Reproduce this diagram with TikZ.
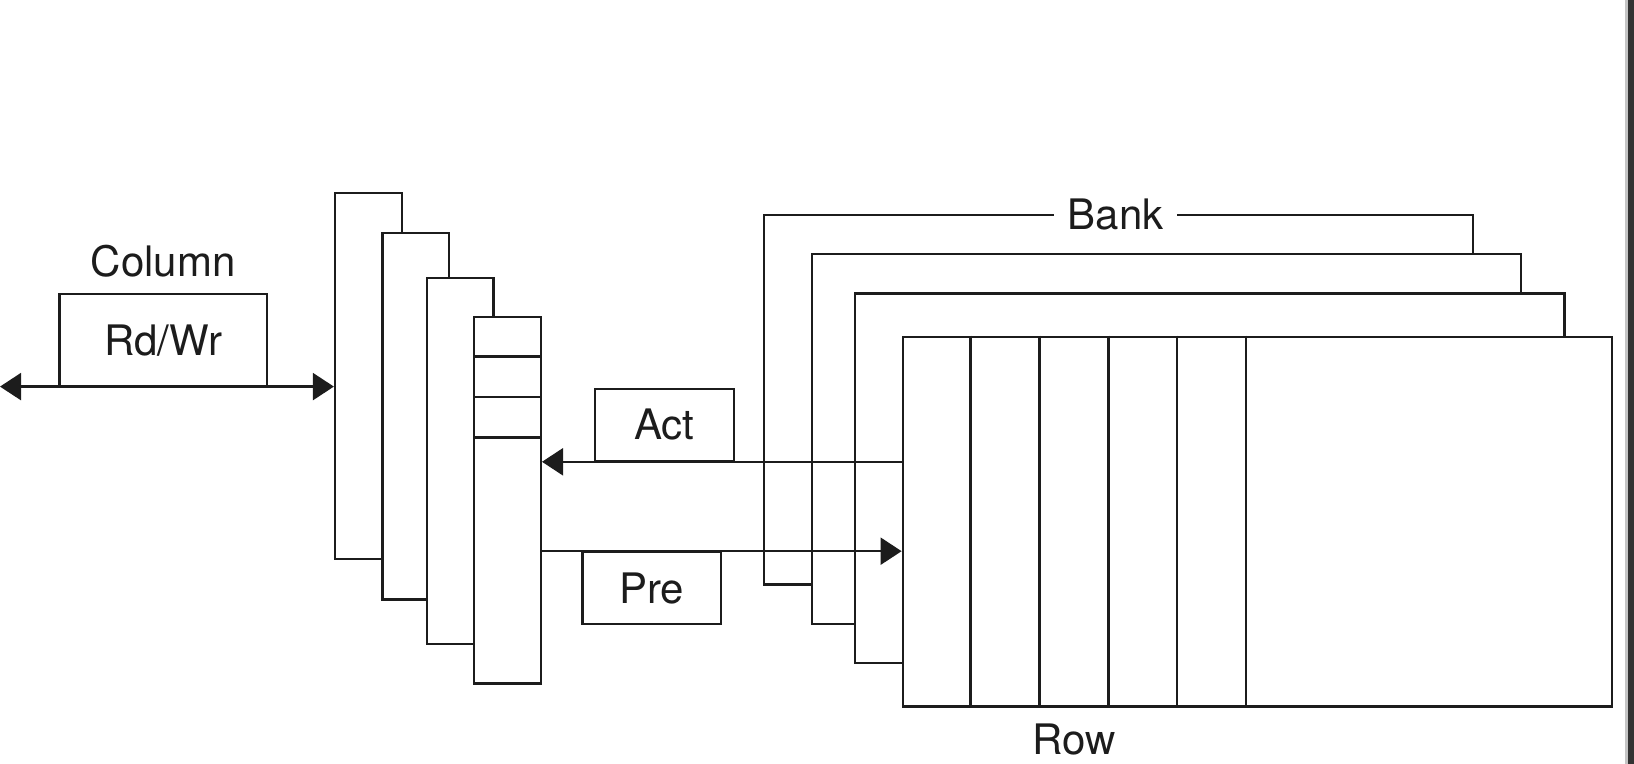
\documentclass[tikz,border=0pt]{standalone}
\usepackage{fontspec}
\setmainfont{TeX Gyre Heros}
\usepackage{tikz}
\usetikzlibrary{positioning, arrows.meta, calc}
\definecolor{dmink}{HTML}{1C1C1C}
\definecolor{dmstrip}{HTML}{333333}
\definecolor{dmedge}{HTML}{C4C4C4}
\newcommand{\dmfont}{\fontsize{21}{25}\selectfont}

\begin{document}
\begin{tikzpicture}[
  x=0.5pt, y=-0.5pt,
  line width=1.1pt, color=dmink,
  cell/.style={
    rectangle, draw, fill=white, inner sep=0pt,
    minimum width=33.4pt, minimum height=183.2pt
  },
  bank/.style={
    rectangle, draw, fill=white, inner sep=0pt,
    minimum width=354.6pt, minimum height=184.9pt
  },
  cmd/.style={
    rectangle, draw, fill=white, font=\dmfont,
    minimum width=69.3pt, minimum height=36pt
  },
  lbl/.style={inner sep=0pt, font=\dmfont},
  arr/.style={-{Triangle[length=10.5pt, width=13.5pt]}},
]
\useasboundingbox (0,0) rectangle (1634,764);

% Column side
\node[cmd, minimum width=103.7pt, minimum height=46.4pt] (rdwr) at (163.1,340.2) {Rd/Wr};
\node[lbl, above=7pt of rdwr] (column) {Column};
\coordinate (bus) at (0,386.6);

% Row buffers
\node[cell] (r1) at (368.4,376.2) {};
\node[cell] (r2) at (415.8,416.3) {};
\node[cell] (r3) at (460.1,461.1) {};
\node[cell] (r4) at (507.5,500.2) {};
\foreach \f in {0.11,0.22,0.33}
  \draw ($(r4.north west)!\f!(r4.south west)$) -- ($(r4.north east)!\f!(r4.south east)$);

% Banks
\node[bank] (b1) at (1118.7,399.7) {};
\node[bank] (b2) at (1166.2,438.7) {};
\node[bank] (b3) at (1209.9,478.4) {};
\node[bank] (b4) at (1257.3,521.6) {};
\foreach \k in {1,...,5}
  \draw ($(b4.north west)!\k*0.0969!(b4.north east)$) -- ($(b4.south west)!\k*0.0969!(b4.south east)$);
\node[lbl, fill=white, inner xsep=7pt] (bank) at (1115.6,214.7) {Bank};
\node[lbl] (row) at (1074.4,740) {Row};

% Commands
\node[cmd] (act) at (664.3,424.7) {Act};
\node[cmd] (pre) at (651.8,588.3) {Pre};

% Arrows
\draw[{Triangle[length=10.5pt, width=13.5pt]}-{Triangle[length=10.5pt, width=13.5pt]}] (bus) -- (r1.west |- bus);
\draw[arr] (b4.west |- act.south) -- (r4.east |- act.south);
\draw[arr] (r4.east |- pre.north) -- (b4.west |- pre.north);

% Window edge
\fill[dmedge] (1625,0) rectangle (1628,764);
\fill[dmstrip] (1628,0) rectangle (1634,764);

\end{tikzpicture}
\end{document}
